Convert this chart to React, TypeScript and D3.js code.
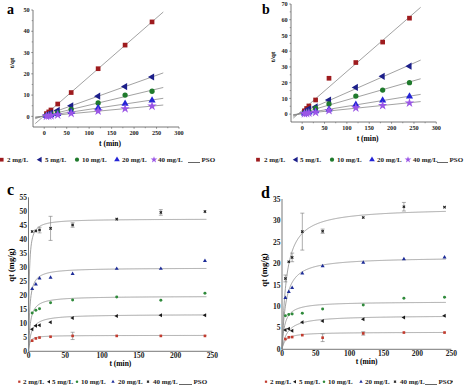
import React from "react";
import * as d3 from "d3";

// sampling times (min)
const times = [5, 10, 15, 30, 60, 120, 180, 240];
const concLabels = ["2 mg/L", "5 mg/L", "10 mg/L", "20 mg/L", "40 mg/L"];

// panel a : t/qt
const a2 = [1.3, 2.1, 3.0, 5.8, 11.2, 22.4, 33.5, 44.4];
const a5 = [0.6, 1.1, 1.6, 2.8, 5.0, 9.5, 14.0, 18.5];
const a10 = [0.4, 0.7, 1.0, 1.7, 3.3, 6.3, 10.0, 11.8];
const a20 = [0.2, 0.4, 0.6, 1.1, 2.1, 4.0, 6.0, 7.5];
const a40 = [0.1, 0.2, 0.35, 0.7, 1.4, 2.5, 3.6, 4.8];

// panel b : t/qt
const b2 = [2.1, 3.6, 5.2, 9.0, 22.8, 32.8, 45.8, 61.0];
const b5 = [1.1, 2.1, 3.4, 4.6, 9.0, 17.0, 24.0, 30.5];
const b10 = [0.6, 1.2, 1.8, 3.8, 6.5, 11.5, 15.3, 20.0];
const b20 = [0.4, 0.8, 1.1, 1.8, 3.0, 6.0, 8.7, 11.3];
const b40 = [0.3, 0.5, 0.7, 1.1, 2.3, 4.0, 5.5, 7.1];

// panel c : qt (mg/g)
const c2 = [3.8, 4.6, 4.9, 5.2, 5.5, 5.5, 5.5, 5.5];
const c5 = [7.9, 9.1, 9.3, 10.4, 11.9, 12.6, 12.9, 12.9];
const c10 = [13.7, 14.7, 15.2, 17.3, 18.3, 19.4, 18.2, 20.7];
const c20 = [22.3, 23.9, 26.1, 26.3, 27.7, 29.5, 29.5, 32.3];
const c40 = [42.8, 43.0, 43.3, 43.9, 45.1, 47.2, 49.6, 49.9];
const c2Err = [0, 0, 0, 0, 1.3, 0, 0, 0];
const c40Err = [0, 0, 1.0, 4.3, 0.8, 0, 1.0, 0];
const cQe = [5.7, 13.2, 19.7, 29.8, 47.3];
const cKq = [0.6, 0.26, 0.4, 0.58, 1.1];

// panel d : qt (mg/g)
const d2 = [2.4, 2.8, 2.85, 3.3, 2.7, 3.7, 3.9, 3.9];
const d5 = [4.5, 4.8, 4.3, 6.3, 6.6, 7.0, 7.4, 7.8];
const d10 = [7.8, 8.1, 8.2, 8.4, 9.4, 10.3, 11.9, 12.1];
const d20 = [12.0, 13.4, 14.3, 17.7, 19.4, 20.2, 21.0, 21.4];
const d40 = [16.5, 20.4, 21.4, 27.4, 27.5, 30.7, 33.2, 33.1];
const d2Err = [0, 0, 0, 0, 0.9, 0.4, 0, 0];
const d40Err = [0.8, 0, 1.0, 4.3, 0.5, 0, 1.0, 0];
const dQe = [4.0, 7.9, 11.1, 21.5, 33.0];
const dKq = [0.2, 0.12, 0.25, 0.175, 0.15];

const FONT = "'Liberation Serif', 'Times New Roman', serif";

const bigColors = ["#9e1b1e", "#1c1f8a", "#1f7a2c", "#2424d6", "#9a55e6"];
const smallColors = ["#c23b2e", "#1a1a1a", "#2f8a3b", "#1d2c98", "#222222"];
const bigShapes = [d3.symbolSquare, "left", d3.symbolCircle, d3.symbolTriangle, d3.symbolStar];
const smallShapes = [d3.symbolSquare, "left", d3.symbolCircle, d3.symbolTriangle, "x"];

function Marker({ x, y, shape, size, color }: any) {
  let sym: any = shape;
  let rot = 0;
  if (shape === "left") { sym = d3.symbolTriangle; rot = -90; }
  if (shape === "x") { sym = d3.symbolCross; rot = 45; }
  const path = d3.symbol().type(sym).size(size)();
  return <path d={path || ""} transform={`translate(${x},${y}) rotate(${rot})`} fill={color} />;
}

function linFit(xs: number[], ys: number[]) {
  const mx = d3.mean(xs)!, my = d3.mean(ys)!;
  let sxy = 0, sxx = 0;
  xs.forEach((x, i) => { sxy += (x - mx) * (ys[i] - my); sxx += (x - mx) * (x - mx); });
  const slope = sxy / sxx;
  return (t: number) => my + slope * (t - mx);
}

function Axes({ x, y, xTicks, yTicks, minor, fs, tickLen }: any) {
  const [x0, x1] = x.range();
  const [y0, y1] = y.range();
  return (
    <g fontFamily={FONT} fontWeight="bold" fontSize={fs} fill="#222">
      <line x1={x0} x2={x1} y1={y0} y2={y0} stroke="#555" strokeWidth={0.8} />
      <line x1={x0} x2={x0} y1={y0} y2={y1} stroke="#555" strokeWidth={0.8} />
      {xTicks.map((t: number) => (
        <g key={"x" + t}>
          {tickLen > 0 && <line x1={x(t)} x2={x(t)} y1={y0} y2={y0 + tickLen} stroke="#555" strokeWidth={0.6} />}
          <text x={x(t)} y={y0 + tickLen + fs * 0.95} textAnchor="middle">{t}</text>
        </g>
      ))}
      {yTicks.map((t: number) => (
        <g key={"y" + t}>
          {tickLen > 0 && <line x1={x0} x2={x0 - tickLen} y1={y(t)} y2={y(t)} stroke="#555" strokeWidth={0.6} />}
          <text x={x0 - tickLen - 1.5} y={y(t) + fs * 0.35} textAnchor="end">{t}</text>
        </g>
      ))}
      {minor && xTicks.slice(0, -1).map((t: number, i: number) => (
        <line key={"mx" + t} x1={x((t + xTicks[i + 1]) / 2)} x2={x((t + xTicks[i + 1]) / 2)} y1={y0} y2={y0 + 1.3} stroke="#555" strokeWidth={0.5} />
      ))}
      {minor && yTicks.slice(0, -1).map((t: number, i: number) => (
        <line key={"my" + t} x1={x0} x2={x0 - 1.3} y1={y((t + yTicks[i + 1]) / 2)} y2={y((t + yTicks[i + 1]) / 2)} stroke="#555" strokeWidth={0.5} />
      ))}
    </g>
  );
}

function LinearPanel({ series, x, y, yTicks, letter, lx, ly, yLabel, labelPos }: any) {
  const xTicks = d3.range(0, 301, 50);
  const lineT = [-20, 265];
  return (
    <g>
      <text x={lx} y={ly} fontFamily={FONT} fontWeight="bold" fontSize={14}>{letter}</text>
      <Axes x={x} y={y} xTicks={xTicks} yTicks={yTicks} minor fs={6.2} tickLen={1.8} />
      {series.map((s: number[], i: number) => {
        const f = linFit(times, s);
        return <line key={"l" + i} x1={x(lineT[0])} x2={x(lineT[1])} y1={y(f(lineT[0]))} y2={y(f(lineT[1]))} stroke="#8a8a8a" strokeWidth={0.8} />;
      })}
      {series.map((s: number[], i: number) =>
        s.map((v, j) => <Marker key={i + "-" + j} x={x(times[j])} y={y(v)} shape={bigShapes[i]} size={i === 4 ? 28 : 22} color={bigColors[i]} />)
      )}
      <text transform={`translate(${labelPos[0]},${labelPos[1]}) rotate(-90)`} textAnchor="middle" fontFamily={FONT} fontWeight="bold" fontSize={7}>{yLabel}</text>
      <text x={(x.range()[0] + x.range()[1]) / 2 + 4} y={y.range()[0] + 19} textAnchor="middle" fontFamily={FONT} fontWeight="bold" fontSize={7.5}>t (min)</text>
    </g>
  );
}

function CurvePanel({ series, errs, qe, kq, x, y, yTicks, letter, lx, ly, labelPos }: any) {
  const xTicks = d3.range(0, 251, 50);
  const ts = d3.range(0, 242.01, 0.5);
  const line = d3.line<number[]>().x((d) => x(d[0])).y((d) => y(d[1]));
  return (
    <g>
      <text x={lx} y={ly} fontFamily={FONT} fontWeight="bold" fontSize={16}>{letter}</text>
      <Axes x={x} y={y} xTicks={xTicks} yTicks={yTicks} minor={false} fs={7.5} tickLen={0} />
      {qe.map((q: number, i: number) => (
        <path key={"c" + i} d={line(ts.map((t) => [t, (q * kq[i] * t) / (1 + kq[i] * t)])) || ""} fill="none" stroke="#8a8a8a" strokeWidth={0.8} />
      ))}
      {errs.map((e: number[] | null, i: number) =>
        e && e.map((v, j) => v > 0 ? (
          <g key={"e" + i + j} stroke="#777" strokeWidth={0.6}>
            <line x1={x(times[j])} x2={x(times[j])} y1={y(series[i][j] - v)} y2={y(series[i][j] + v)} />
            <line x1={x(times[j]) - 2} x2={x(times[j]) + 2} y1={y(series[i][j] - v)} y2={y(series[i][j] - v)} />
            <line x1={x(times[j]) - 2} x2={x(times[j]) + 2} y1={y(series[i][j] + v)} y2={y(series[i][j] + v)} />
          </g>
        ) : null)
      )}
      {series.map((s: number[], i: number) =>
        s.map((v, j) => <Marker key={i + "-" + j} x={x(times[j])} y={y(v)} shape={smallShapes[i]} size={i === 4 ? 6 : 7} color={smallColors[i]} />)
      )}
      <text transform={`translate(${labelPos[0]},${labelPos[1]}) rotate(-90)`} textAnchor="middle" fontFamily={FONT} fontWeight="bold" fontSize={8.5}>qt (mg/g)</text>
      <text x={(x.range()[0] + x.range()[1]) / 2} y={y.range()[0] + 15} textAnchor="middle" fontFamily={FONT} fontWeight="bold" fontSize={7.5}>t (min)</text>
    </g>
  );
}

function Legend({ y, markX, textX, lineX, big, dot }: any) {
  return (
    <g fontFamily={FONT} fontWeight="bold" fontSize={7} fill="#222">
      {concLabels.map((lab, i) => (
        <g key={lab}>
          <Marker x={markX[i]} y={y - 2.3} shape={big ? bigShapes[i] : smallShapes[i]} size={big ? 14 : 5} color={big ? bigColors[i] : smallColors[i]} />
          <text x={textX[i]} y={y}>{lab}</text>
        </g>
      ))}
      <line x1={lineX[0]} x2={lineX[1]} y1={y + 0.5} y2={y + 0.5} stroke="#222" strokeWidth={0.7} />
      <text x={lineX[1] + 1.5} y={y}>PSO</text>
      {dot && <circle cx={dot} cy={y - 2.5} r={0.9} fill="#333" />}
    </g>
  );
}

export default function App() {
  const xa = d3.scaleLinear().domain([-25, 300]).range([33, 179]);
  const ya = d3.scaleLinear().domain([-5, 50]).range([127, 10]);
  const xb = d3.scaleLinear().domain([-25, 300]).range([291, 436.3]);
  const yb = d3.scaleLinear().domain([-5, 70]).range([122, 4]);
  const xc = d3.scaleLinear().domain([0, 250]).range([28.5, 212.3]);
  const yc = d3.scaleLinear().domain([0, 55]).range([351.3, 197.3]);
  const xd = d3.scaleLinear().domain([0, 250]).range([282, 451.3]);
  const yd = d3.scaleLinear().domain([0, 35]).range([349.3, 199]);

  return (
    <svg width={474} height={388} style={{ position: "absolute", left: 0, top: 0, background: "#fff" }}>
      <LinearPanel series={[a2, a5, a10, a20, a40]} x={xa} y={ya} yTicks={d3.range(0, 51, 10)}
        letter="a" lx={7} ly={14} yLabel="t/qt" labelPos={[14, 63]} />
      <LinearPanel series={[b2, b5, b10, b20, b40]} x={xb} y={yb} yTicks={d3.range(0, 71, 10)}
        letter="b" lx={262} ly={14} yLabel="t/qt" labelPos={[275, 57]} />
      <Legend y={162} big markX={[1.7, 40, 77, 117, 154]} textX={[7, 45, 82, 122, 158]} lineX={[188, 200]} />
      <Legend y={162} big markX={[258, 296, 332, 372, 408]} textX={[264, 300, 337, 377, 413]} lineX={[437, 448]} />

      <CurvePanel series={[c2, c5, c10, c20, c40]} errs={[c2Err, null, null, null, c40Err]} qe={cQe} kq={cKq}
        x={xc} y={yc} yTicks={d3.range(0, 56, 5)} letter="c" lx={7} ly={195} labelPos={[14, 265]} />
      <CurvePanel series={[d2, d5, d10, d20, d40]} errs={[d2Err, null, null, null, d40Err]} qe={dQe} kq={dKq}
        x={xd} y={yd} yTicks={d3.range(0, 36, 5)} letter="d" lx={261} ly={198} labelPos={[267, 270]} />
      <Legend y={384} markX={[19.3, 49, 77, 113, 148]} textX={[23, 52, 81, 118, 153]} lineX={[179, 192]} />
      <Legend y={384} markX={[266, 295, 324, 361, 395]} textX={[270, 299, 328, 365, 400]} lineX={[425, 437]} dot={452} />
    </svg>
  );
}
